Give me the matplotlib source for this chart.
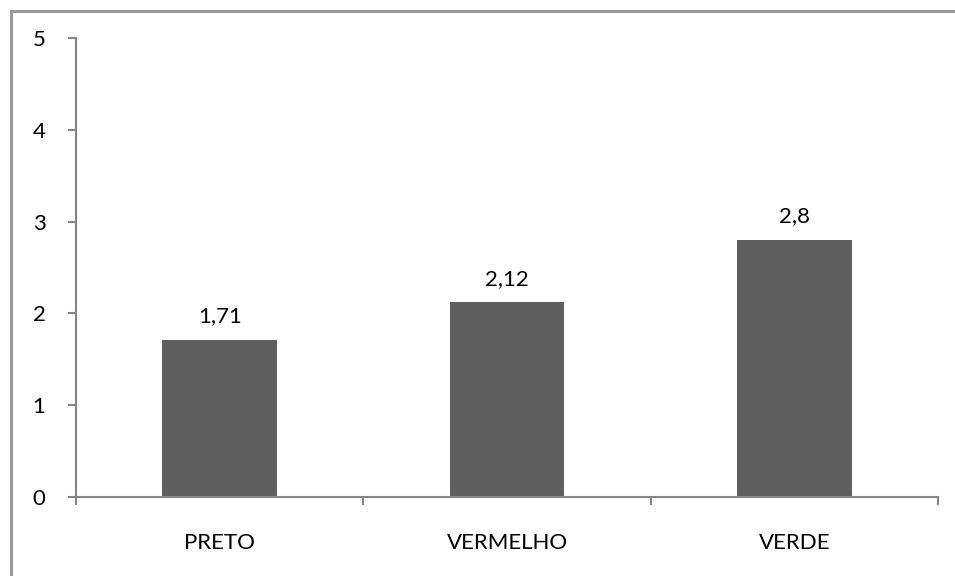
import matplotlib
matplotlib.use("Agg")
import matplotlib.pyplot as plt
from matplotlib.lines import Line2D

categories = ["PRETO", "VERMELHO", "VERDE"]
values = [1.71, 2.12, 2.8]
value_labels = ["1,71", "2,12", "2,8"]
y_ticks = [0, 1, 2, 3, 4, 5]

plt.rcParams["font.family"] = ["Lato", "DejaVu Sans"]
FS = 16

fig = plt.figure(figsize=(9.55, 5.76), dpi=100)
ax = fig.add_axes([76 / 955, 1 - 497 / 576, (938 - 76) / 955, (497 - 38) / 576])

# chart-area frame: only its top and left edges fall inside the image
fx, fy = 10.5 / 955, 1 - 10.5 / 576
fig.lines.append(Line2D([fx, 1.0], [fy, fy], transform=fig.transFigure,
                        color="#999999", linewidth=2.2))
fig.lines.append(Line2D([fx, fx], [0.0, fy], transform=fig.transFigure,
                        color="#999999", linewidth=2.2))

x = list(range(len(categories)))
ax.bar(x, values, width=0.4, color="#5f5f5f", zorder=2)
for xi, v, lab in zip(x, values, value_labels):
    ax.text(xi, v + 0.15, lab, ha="center", va="bottom", fontsize=FS, color="#000000")

ax.set_xlim(-0.5, len(categories) - 0.5)
ax.set_ylim(0, 5)
ax.set_yticks(y_ticks)
ax.set_yticklabels([str(t) for t in y_ticks], fontsize=FS)
ax.set_xticks([i - 0.5 for i in range(len(categories) + 1)])
ax.set_xticklabels([])
ax.set_xticks(x, minor=True)
ax.set_xticklabels(categories, minor=True, fontsize=FS)
ax.tick_params(axis="x", which="minor", length=0, pad=26)
ax.tick_params(axis="x", which="major", length=6, width=1.5, color="#868686", direction="out")
ax.tick_params(axis="y", length=6, width=1.5, color="#868686", direction="out", pad=16)

for side in ["top", "right"]:
    ax.spines[side].set_visible(False)
for side in ["left", "bottom"]:
    ax.spines[side].set_color("#868686")
    ax.spines[side].set_linewidth(1.5)

fig.savefig("out.png", dpi=100)
